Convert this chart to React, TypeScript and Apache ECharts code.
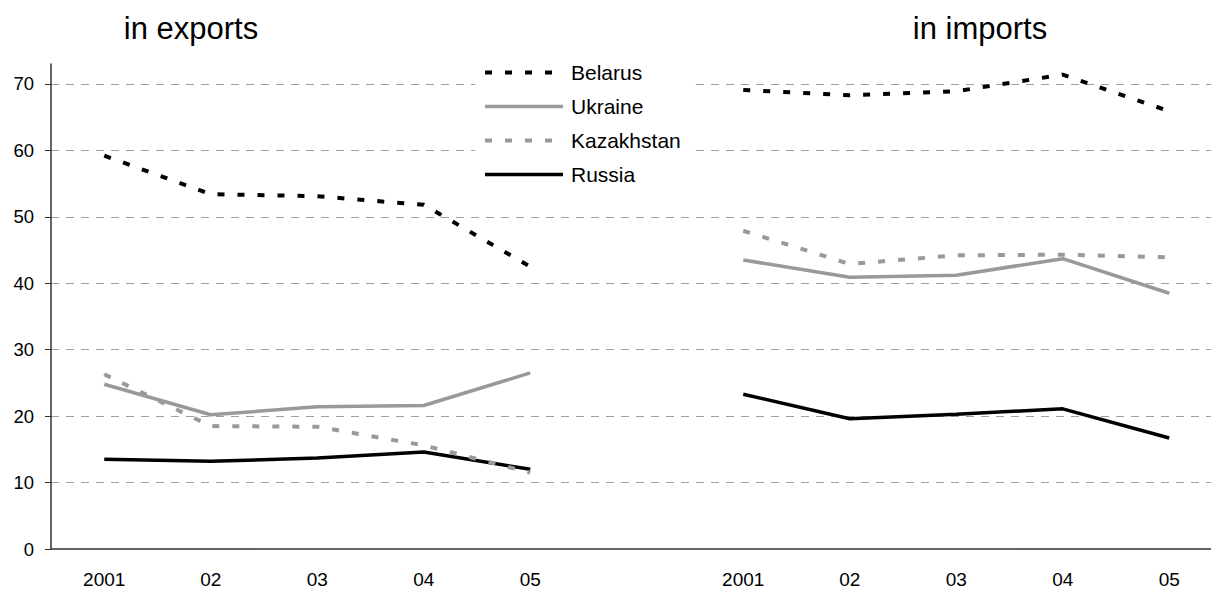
import React, { useEffect, useRef } from "react";
import * as echarts from "echarts";

const categories = ["2001", "02", "03", "04", "05", "", "2001", "02", "03", "04", "05"];
const yTicks = [0, 10, 20, 30, 40, 50, 60, 70];
const titles = ["in exports", "in imports"];
const countries = ["Belarus", "Ukraine", "Kazakhstan", "Russia"];

const belarusExports = [59.2, 53.4, 53.1, 51.8, 42.5];
const belarusImports = [69.1, 68.3, 68.9, 71.4, 65.9];
const ukraineExports = [24.8, 20.2, 21.4, 21.6, 26.5];
const ukraineImports = [43.5, 40.9, 41.2, 43.7, 38.5];
const kazakhstanExports = [26.3, 18.5, 18.4, 15.6, 11.5];
const kazakhstanImports = [47.9, 42.9, 44.2, 44.3, 43.9];
const russiaExports = [13.5, 13.2, 13.7, 14.6, 12.0];
const russiaImports = [23.3, 19.6, 20.3, 21.1, 16.7];

const FONT = "'Liberation Sans', Arial, sans-serif";

export default function App() {
  const ref = useRef<HTMLDivElement>(null);
  useEffect(() => {
    if (!ref.current) return;
    const chart = echarts.init(ref.current, null, { renderer: "svg" });
    const join = (a: number[], b: number[]) => [...a, null, ...b];
    const styles = [
      { color: "#000000", width: 4, type: [7, 13] },
      { color: "#999999", width: 3.5, type: "solid" },
      { color: "#999999", width: 4, type: [7, 13] },
      { color: "#000000", width: 3.5, type: "solid" },
    ];
    const datas = [
      join(belarusExports, belarusImports),
      join(ukraineExports, ukraineImports),
      join(kazakhstanExports, kazakhstanImports),
      join(russiaExports, russiaImports),
    ];
    chart.setOption({
      animation: false,
      backgroundColor: "#ffffff",
      title: [
        {
          text: titles[0],
          left: 191,
          top: 13,
          padding: 0,
          textAlign: "center",
          textStyle: { fontFamily: FONT, fontSize: 31, fontWeight: "normal", color: "#000" },
        },
        {
          text: titles[1],
          left: 980,
          top: 13,
          padding: 0,
          textAlign: "center",
          textStyle: { fontFamily: FONT, fontSize: 31, fontWeight: "normal", color: "#000" },
        },
      ],
      legend: {
        orient: "vertical",
        left: 475,
        top: 54,
        padding: [8, 8, 8, 8],
        backgroundColor: "#ffffff",
        itemWidth: 78,
        itemHeight: 14,
        itemGap: 13,
        itemStyle: { opacity: 0 },
        lineStyle: { width: "inherit", type: "inherit", color: "inherit" },
        textStyle: { fontFamily: FONT, fontSize: 21, color: "#000", padding: [0, 0, 0, 3] },
        data: countries,
      },
      grid: { left: 51, top: 64, width: 1171.5, height: 486, containLabel: false },
      xAxis: {
        type: "category",
        data: categories,
        boundaryGap: true,
        axisLine: { lineStyle: { color: "#333", width: 1.5 } },
        axisTick: { show: false },
        axisLabel: { fontFamily: FONT, fontSize: 19, color: "#000", margin: 21, interval: 0 },
      },
      yAxis: {
        type: "value",
        min: 0,
        max: 73,
        interval: 10,
        axisLine: { show: true, lineStyle: { color: "#333", width: 1.5 } },
        axisTick: { show: true, length: 6, lineStyle: { color: "#333" }, customValues: yTicks },
        axisLabel: {
          fontFamily: FONT,
          fontSize: 18.5,
          color: "#000",
          margin: 17,
          customValues: yTicks,
        },
        splitLine: {
          show: true,
          showMinLine: false,
          lineStyle: { color: "#a0a0a0", width: 1, type: [8, 7] },
        },
      },
      series: countries.map((name, i) => ({
        name,
        type: "line",
        data: datas[i],
        symbol: "none",
        connectNulls: false,
        z: 10 - i,
        lineStyle: { color: styles[i].color, width: styles[i].width, type: styles[i].type },
        itemStyle: { color: styles[i].color },
      })),
    });
    return () => chart.dispose();
  }, []);
  return (
    <div
      ref={ref}
      style={{ position: "fixed", left: 0, top: 0, width: 1240, height: 589, background: "#fff" }}
    />
  );
}
